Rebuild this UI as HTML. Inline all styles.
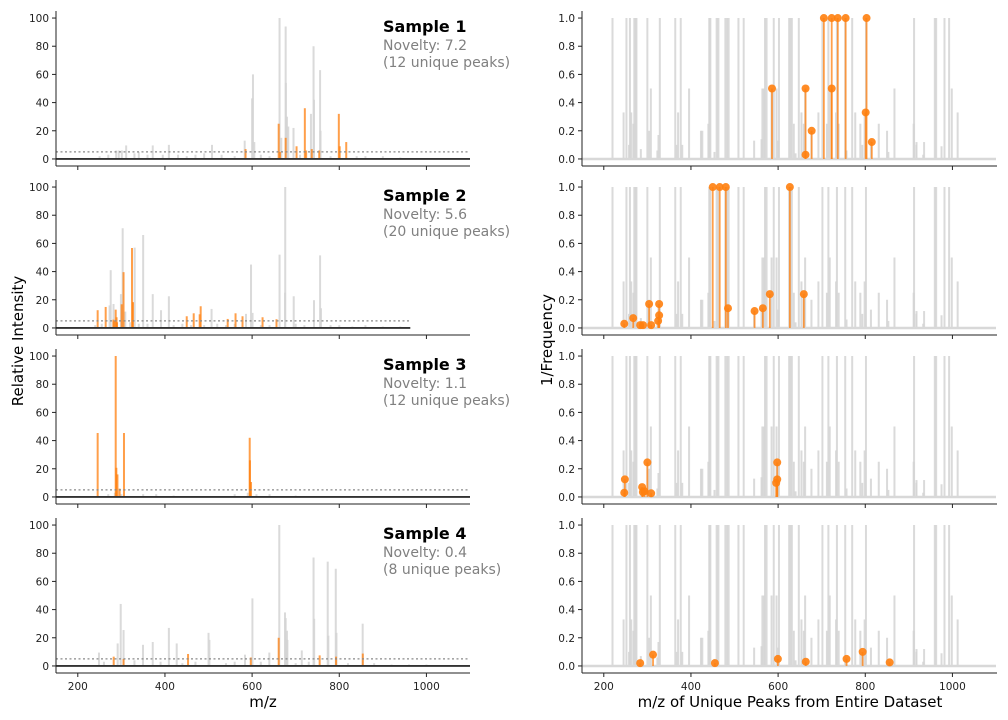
<!DOCTYPE html>
<html><head><meta charset="utf-8"><style>
body{margin:0;background:#fff;}
svg{display:block;font-family:"DejaVu Sans","Liberation Sans",sans-serif;}
</style></head><body>
<svg id="chart" width="1008" height="720" viewBox="0 0 1008 720" xmlns="http://www.w3.org/2000/svg"></svg>
<script>
const xTicks=[200,400,600,800,1000];
const leftYTicks=[0,20,40,60,80,100];
const rightYTicks=[0,0.2,0.4,0.6,0.8,1.0];
const sampleNames=["Sample 1","Sample 2","Sample 3","Sample 4"];
const noveltyScores=["7.2","5.6","1.1","0.4"];
const uniqueCounts=[12,20,12,8];
const baselineEnds=[1100,963,1100,1100];

const rightGrayMz=[220,252,260,270,273,275,300,328.6,364,376.6,442,444.5,459,463,479,483,486.5,509,521,570,573.5,590,602,625.4,628.5,631.5,647.5,701.7,715.4,735,754,770,801.6,912,959.6,962.7,981.8,992.4,
 308,395.7,564,567.4,585,596.4,662,718.5,867,998.5,
 245.4,263,370.5,653.6,692.5,733,777,798.6,1012,
 268,440,636,659,712,739,788.7,831,911,
 423,426,325.5,545,917.6,935,975,454,853,933,562,757,793,813,850,917,676.5,367,323,285,380,258,304,600,640];
const rightGrayVal=[1,1,1,1,1,1,1,1,1,1,1,1,1,1,1,1,1,1,1,1,1,1,1,1,1,1,1,1,1,1,1,1,1,1,1,1,1,1,
 0.5,0.5,0.5,0.5,0.5,0.5,0.5,0.5,0.5,0.5,
 0.33,0.33,0.33,0.33,0.33,0.33,0.33,0.33,0.33,
 0.25,0.25,0.25,0.25,0.25,0.25,0.25,0.25,0.25,
 0.2,0.2,0.17,0.13,0.12,0.12,0.09,0.05,0.05,0.03,0.14,0.06,0.1,0.13,0.2,0.1,0.2,0.1,0.06,0.07,0.1,0.1,0.2,0.13,0.04];

const s1GrayMz=[663,677,602,600,741,742,756,735,695,680,677.5,683,757,583,605,311,372,409,508,288,294,301,667,250,270,330,340,360,395,430,450,470,490,530,560,620,640,710,780,840,860,900,940];
const s1GrayInt=[100,94,60,43,80,42,63,32,22,30,54,23,20,13,12,9.6,9.6,10,10,6,6,6,15,2,3,4,5,3,3,3,2,3,4,3,2,3,2,3,2,2,2,2,1];
const s1OrMz=[585,661,664,677,702,721,724,737,754,799,801,816];
const s1OrInt=[7,25,5,15,9,36,6,7,6,32,9,12];
const s1FreqMz=[586,663,663,677,705,723,723,737,755,801,803,815];
const s1FreqVal=[0.5,0.5,0.03,0.2,1,1,0.5,1,1,0.33,1,0.12];

const s2GrayMz=[275.5,303,282,273,299,309,330.5,350,372,391,409,507,586,597.5,601,663,676,675.6,695.5,742,756,758,240,255,320,340,360,420,440,460,490,520,540,560,620,640,700,720,780,800,830,860,900,940];
const s2GrayInt=[41,70.8,17,16,24,11.6,57,66,24,12.6,22.5,13.5,10,45,10.7,52,100,25,22.5,19.7,51.5,14,2,3,4,3,3,2,3,2,2,3,2,3,2,2,3,2,2,2,1,2,1,1];
const s2OrMz=[245.6,264,281.6,284,287,289,300.7,305,324.4,326.7,450,466,479.7,482,544,562,578,624,656,290];
const s2OrInt=[12.6,14.9,5.9,5,13,7.6,16.8,39.6,56.7,18.3,8.3,10.4,9.7,15.4,6.4,10.4,8.3,7.6,6.2,4];
const s2FreqMz=[247,267.5,283.5,290,304,308.7,324.7,327,327,450,466,480,485,546,565,581,627,659];
const s2FreqVal=[0.03,0.07,0.02,0.02,0.17,0.02,0.05,0.09,0.17,1,1,1,0.14,0.12,0.14,0.24,1,0.24];

const s3GrayMz=[270,285,300,350,380,420,560,590,610,640,700];
const s3GrayInt=[2,3,2,2,2,1,2,3,2,2,1];
const s3OrMz=[245.6,287,288.5,291,296,306,594.5,595,597.5];
const s3OrInt=[45.4,100,20.7,16,5.9,45.4,42,26,10.6];
const s3FreqMz=[247,248.4,288,289.6,293.5,300,308.7,595.6,598,598];
const s3FreqVal=[0.03,0.125,0.07,0.035,0.04,0.245,0.026,0.1,0.125,0.245];

const s4GrayMz=[662.4,741,773.5,792,600.7,298.5,305,291.5,409,427,500,502,675.5,677,680,681,742.4,775,793.6,853.7,349.6,372,248.6,714,639.5,583.7,260,330,390,440,470,540,560,620,700,730,820,880,920,960,1000];
const s4GrayInt=[100,77,74,69,48,44,25.5,16,27,16,23.5,18.5,38,34,25,18.5,33.5,21.5,23.5,30,15,17,9.5,11,9.5,8,3,4,3,2,3,2,3,3,2,3,2,2,1,1,1];
const s4OrMz=[282.4,305,453,597,661,755,792.6,854];
const s4OrInt=[6.6,5,8.5,6,20,7.5,6.6,8.8];
const s4FreqMz=[283.5,313,455,599.5,663.5,757,794,856];
const s4FreqVal=[0.02,0.08,0.02,0.05,0.03,0.05,0.10,0.025];

const grayMz=[s1GrayMz,s2GrayMz,s3GrayMz,s4GrayMz];
const grayInt=[s1GrayInt,s2GrayInt,s3GrayInt,s4GrayInt];
const orMz=[s1OrMz,s2OrMz,s3OrMz,s4OrMz];
const orInt=[s1OrInt,s2OrInt,s3OrInt,s4OrInt];
const frMz=[s1FreqMz,s2FreqMz,s3FreqMz,s4FreqMz];
const frVal=[s1FreqVal,s2FreqVal,s3FreqVal,s4FreqVal];

const NS="http://www.w3.org/2000/svg";
const svg=document.getElementById('chart');
function mk(tag,attrs,parent,text){const e=document.createElementNS(NS,tag);for(const k in attrs)e.setAttribute(k,attrs[k]);if(text!==undefined)e.textContent=text;(parent||svg).appendChild(e);return e;}

const L0=56,R0=582,PW=414,PH=155,rowTop=[11,180,349,518];
function xs(x0,mz){return x0+(mz-150)*PW/950;}
function ysL(top,v){return top+PH-(v+5)*PH/110;}
function ysR(top,v){return top+PH-(v+0.05)*PH/1.1;}

for(let r=0;r<4;r++){
  const top=rowTop[r];
  const gl=mk('g',{});
  
  
  for(let i=0;i<grayMz[r].length;i++){
    const x=xs(L0,grayMz[r][i]);
    const l=mk('line',{x1:x,x2:x,y1:ysL(top,0),y2:ysL(top,grayInt[r][i]),stroke:'#d3d3d3','stroke-opacity':0.85,'stroke-width':2},gl);
    
    
  }
  for(let i=0;i<orMz[r].length;i++){
    const x=xs(L0,orMz[r][i]);
    const l=mk('line',{x1:x,x2:x,y1:ysL(top,0),y2:ysL(top,orInt[r][i]),stroke:'#ff7f0e','stroke-opacity':0.75,'stroke-width':2},gl);
    
    
  }
  const xe=xs(L0,baselineEnds[r]);
  const th=mk('line',{x1:L0,x2:xe,y1:ysL(top,5),y2:ysL(top,5),stroke:'#888','stroke-width':1.3,'stroke-dasharray':'2,2.5'},gl);
  
  
  const bl=mk('line',{x1:L0,x2:xe,y1:ysL(top,0),y2:ysL(top,0),stroke:'#333','stroke-width':1.8},gl);
  
  
  mk('line',{x1:L0,x2:L0,y1:top,y2:top+PH,stroke:'#222','stroke-width':1},gl);
  mk('line',{x1:L0,x2:L0+PW,y1:top+PH,y2:top+PH,stroke:'#222','stroke-width':1},gl);
  for(const t of leftYTicks){
    const y=ysL(top,t);
    mk('line',{x1:L0-4,x2:L0,y1:y,y2:y,stroke:'#222'},gl);
    const tx=mk('text',{x:L0-7,y:y+4,'text-anchor':'end','font-size':10.5,fill:'#222'},gl,String(t));
    
    
  }
  for(const t of xTicks){
    const x=xs(L0,t);
    mk('line',{x1:x,x2:x,y1:top+PH,y2:top+PH+4,stroke:'#222'},gl);
    if(r===3){const tx=mk('text',{x:x,y:top+PH+17,'text-anchor':'middle','font-size':10.5,fill:'#222'},gl,String(t));
      
      }
  }
  const t1=mk('text',{x:383,y:top+21,'font-size':16,'font-weight':'bold',fill:'#000'},gl,sampleNames[r]);
  
  
  const t2=mk('text',{x:383,y:top+39,'font-size':14,fill:'#808080'},gl,'Novelty: '+noveltyScores[r]);
  
  
  const t3=mk('text',{x:383,y:top+56,'font-size':14,fill:'#808080'},gl,'('+uniqueCounts[r]+' unique peaks)');
  
  

  const gr=mk('g',{});
  
  
  for(let i=0;i<rightGrayMz.length;i++){
    const x=xs(R0,rightGrayMz[i]);
    const l=mk('line',{x1:x,x2:x,y1:ysR(top,0),y2:ysR(top,rightGrayVal[i]),stroke:'#d3d3d3','stroke-opacity':0.85,'stroke-width':2},gr);
    
    
  }
  const rb=mk('line',{x1:R0,x2:R0+PW,y1:ysR(top,0),y2:ysR(top,0),stroke:'#d8d8d8','stroke-width':2.5},gr);
  
  
  for(let i=0;i<frMz[r].length;i++){
    const x=xs(R0,frMz[r][i]),y=ysR(top,frVal[r][i]);
    const l=mk('line',{x1:x,x2:x,y1:ysR(top,0),y2:y,stroke:'#ff7f0e','stroke-opacity':0.75,'stroke-width':1.8},gr);
    
    
    const c=mk('circle',{cx:x,cy:y,r:4,fill:'#ff7f0e','fill-opacity':0.9},gr);
    
    
  }
  mk('line',{x1:R0,x2:R0,y1:top,y2:top+PH,stroke:'#222','stroke-width':1},gr);
  mk('line',{x1:R0,x2:R0+PW+1,y1:top+PH,y2:top+PH,stroke:'#222','stroke-width':1},gr);
  for(const t of rightYTicks){
    const y=ysR(top,t);
    mk('line',{x1:R0-4,x2:R0,y1:y,y2:y,stroke:'#222'},gr);
    const tx=mk('text',{x:R0-7,y:y+4,'text-anchor':'end','font-size':10.5,fill:'#222'},gr,t.toFixed(1));
    
    
  }
  for(const t of xTicks){
    const x=xs(R0,t);
    mk('line',{x1:x,x2:x,y1:top+PH,y2:top+PH+4,stroke:'#222'},gr);
    if(r===3){const tx=mk('text',{x:x,y:top+PH+17,'text-anchor':'middle','font-size':10.5,fill:'#222'},gr,String(t));
      
      }
  }
}
const a1=mk('text',{x:263,y:707,'text-anchor':'middle','font-size':15,fill:'#000'},svg,'m/z');


const a2=mk('text',{x:790,y:707,'text-anchor':'middle','font-size':15,fill:'#000'},svg,'m/z of Unique Peaks from Entire Dataset');


const a3=mk('text',{x:23,y:341,'text-anchor':'middle','font-size':15,fill:'#000',transform:'rotate(-90 23 341)'},svg,'Relative Intensity');


const a4=mk('text',{x:552,y:340,'text-anchor':'middle','font-size':15,fill:'#000',transform:'rotate(-90 552 340)'},svg,'1/Frequency');


</script>
</body></html>
